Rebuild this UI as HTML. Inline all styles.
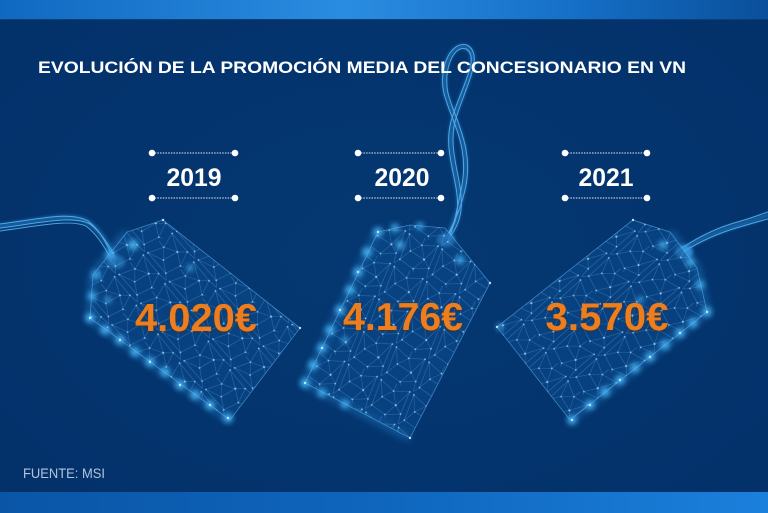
<!DOCTYPE html>
<html><head><meta charset="utf-8">
<style>
html,body{margin:0;padding:0;background:#04346b;}
svg{display:block;}
</style></head>
<body>
<svg width="768" height="513" viewBox="0 0 768 513" xmlns="http://www.w3.org/2000/svg">
<defs>
  <linearGradient id="topbar" x1="0" y1="0" x2="1" y2="0">
    <stop offset="0" stop-color="#1069c0"/>
    <stop offset="0.45" stop-color="#2a8ce0"/>
    <stop offset="0.75" stop-color="#156fc6"/>
    <stop offset="1" stop-color="#0a4f9a"/>
  </linearGradient>
  <linearGradient id="botbar" x1="0" y1="0" x2="1" y2="0">
    <stop offset="0" stop-color="#0a55a6"/>
    <stop offset="0.5" stop-color="#0f66bd"/>
    <stop offset="1" stop-color="#1b80dc"/>
  </linearGradient>
  <radialGradient id="bg" cx="0.5" cy="0.5" r="0.7">
    <stop offset="0" stop-color="#053872"/>
    <stop offset="1" stop-color="#03316a"/>
  </radialGradient>
  <pattern id="mesh" width="36" height="36" patternUnits="userSpaceOnUse" patternTransform="rotate(-37)">
    <g stroke="#7cc4ff" stroke-opacity="0.4" stroke-width="0.5" fill="none">
      <path d="M2,3 L18,8 L33,2 M2,3 L10,18 L18,8 L26,20 L33,2 M10,18 L26,20 L34,26 L33,2 M10,18 L4,30 L20,33 L26,20 M20,33 L34,26 M4,30 L2,3 M18,8 L18,0 M34,26 L36,36 M20,33 L22,36 M4,30 L0,36"/>
    </g>
    <g fill="#9fd8ff" fill-opacity="0.8">
      <circle cx="2" cy="3" r="0.9"/><circle cx="18" cy="8" r="0.9"/><circle cx="33" cy="2" r="0.9"/>
      <circle cx="10" cy="18" r="0.9"/><circle cx="26" cy="20" r="1.1"/><circle cx="4" cy="30" r="0.9"/>
      <circle cx="20" cy="33" r="0.9"/><circle cx="34" cy="26" r="0.9"/>
    </g>
  </pattern>
  <pattern id="mesh2" width="36" height="36" patternUnits="userSpaceOnUse" patternTransform="rotate(25)">
    <g stroke="#7cc4ff" stroke-opacity="0.4" stroke-width="0.5" fill="none">
      <path d="M2,3 L18,8 L33,2 M2,3 L10,18 L18,8 L26,20 L33,2 M10,18 L26,20 L34,26 L33,2 M10,18 L4,30 L20,33 L26,20 M20,33 L34,26 M4,30 L2,3 M18,8 L18,0 M34,26 L36,36 M20,33 L22,36 M4,30 L0,36"/>
    </g>
    <g fill="#9fd8ff" fill-opacity="0.8">
      <circle cx="2" cy="3" r="0.9"/><circle cx="18" cy="8" r="0.9"/><circle cx="33" cy="2" r="0.9"/>
      <circle cx="10" cy="18" r="0.9"/><circle cx="26" cy="20" r="1.1"/><circle cx="4" cy="30" r="0.9"/>
      <circle cx="20" cy="33" r="0.9"/><circle cx="34" cy="26" r="0.9"/>
    </g>
  </pattern>
  <pattern id="mesh3" width="36" height="36" patternUnits="userSpaceOnUse" patternTransform="rotate(52)">
    <g stroke="#7cc4ff" stroke-opacity="0.4" stroke-width="0.5" fill="none">
      <path d="M2,3 L18,8 L33,2 M2,3 L10,18 L18,8 L26,20 L33,2 M10,18 L26,20 L34,26 L33,2 M10,18 L4,30 L20,33 L26,20 M20,33 L34,26 M4,30 L2,3 M18,8 L18,0 M34,26 L36,36 M20,33 L22,36 M4,30 L0,36"/>
    </g>
    <g fill="#9fd8ff" fill-opacity="0.8">
      <circle cx="2" cy="3" r="0.9"/><circle cx="18" cy="8" r="0.9"/><circle cx="33" cy="2" r="0.9"/>
      <circle cx="10" cy="18" r="0.9"/><circle cx="26" cy="20" r="1.1"/><circle cx="4" cy="30" r="0.9"/>
      <circle cx="20" cy="33" r="0.9"/><circle cx="34" cy="26" r="0.9"/>
    </g>
  </pattern>
  <filter id="blur" x="-50%" y="-50%" width="200%" height="200%"><feGaussianBlur stdDeviation="2.8"/></filter>
  <filter id="blur2" x="-20%" y="-20%" width="140%" height="140%"><feGaussianBlur stdDeviation="1.5"/></filter>
  <filter id="halo" x="-20%" y="-20%" width="140%" height="140%"><feGaussianBlur stdDeviation="4"/></filter>
  <filter id="tshadow" x="-10%" y="-20%" width="120%" height="140%"><feGaussianBlur stdDeviation="1.2"/></filter>
</defs>

<rect x="0" y="0" width="768" height="513" fill="url(#bg)"/>
<rect x="0" y="0" width="768" height="19" fill="url(#topbar)"/>
<rect x="0" y="19" width="768" height="1" fill="#0a3f7c"/>
<rect x="0" y="492" width="768" height="21" fill="url(#botbar)"/>

<!-- strings -->
<g fill="none" stroke-linecap="round">
  <g stroke="#2f90dc" stroke-width="5" opacity="0.5" filter="url(#blur2)">
    <path d="M0,226 C40,221 70,212 88,222 C102,232 108,246 115,258"/>
    <path d="M447,238 C478,200 438,160 455,115 C465,85 482,55 466,47 C450,42 438,75 448,100 C456,125 472,150 463,190 C458,215 452,228 447,238"/>
    <path d="M683,250 C698,240 715,232 735,226 C750,222 760,218 768,215"/>
  </g>
  <g stroke="#5ab8f0" stroke-width="1" opacity="0.85">
    <path d="M0,224 C40,219 70,211 88,221 C101,231 107,245 113,257"/>
    <path d="M0,228 C40,223 72,215 90,224 C103,234 110,248 117,259"/>
    <path d="M0,231 C38,226 70,219 86,226 C99,236 105,249 112,260"/>
    <path d="M446,238 C476,200 436,160 453,115 C463,85 480,56 466,49 C452,44 441,76 450,100 C458,125 474,152 465,190 C459,215 451,228 446,238"/>
    <path d="M449,238 C480,200 441,160 457,115 C467,84 484,54 467,45 C449,40 436,74 446,100 C454,126 470,150 461,190 C456,215 453,229 449,238"/>
    <path d="M683,252 C699,242 716,234 736,228 C750,224 760,221 768,219"/>
    <path d="M682,248 C697,238 714,229 734,223 C749,219 759,215 768,212"/>
  </g>
  <g fill="#3fa6ea" opacity="0.75" filter="url(#blur2)" stroke="none">
    <ellipse cx="116" cy="262" rx="9" ry="7"/>
    <ellipse cx="446" cy="240" rx="9" ry="7"/>
    <ellipse cx="684" cy="252" rx="9" ry="7"/>
  </g>
</g>

<!-- edge halos -->
<g fill="none" stroke="#2f9ff0" stroke-width="6" opacity="0.45" filter="url(#halo)">
  <polyline points="127,232 93,275 90,318 230,420"/>
  <polyline points="378,232 305,383 410,438"/>
  <polyline points="670,232 697,268 707,312 570,420"/>
</g>

<!-- tags -->
<g>
  <polygon points="127,232 163,220 300,328 230,420 90,318 93,275" fill="#0c4d92" fill-opacity="0.5"/>
  <polygon points="127,232 163,220 300,328 230,420 90,318 93,275" fill="url(#mesh)"/>
  <polygon points="127,232 163,220 300,328 230,420 90,318 93,275" fill="none" stroke="#6cc0ff" stroke-opacity="0.55" stroke-width="0.8"/>

  <polygon points="305,383 378,232 410,225 445,228 490,283 410,438" fill="#0c4d92" fill-opacity="0.5"/>
  <polygon points="305,383 378,232 410,225 445,228 490,283 410,438" fill="url(#mesh2)"/>
  <polygon points="305,383 378,232 410,225 445,228 490,283 410,438" fill="none" stroke="#6cc0ff" stroke-opacity="0.55" stroke-width="0.8"/>

  <polygon points="497,327 633,220 670,232 697,268 707,312 570,420" fill="#0c4d92" fill-opacity="0.5"/>
  <polygon points="497,327 633,220 670,232 697,268 707,312 570,420" fill="url(#mesh3)"/>
  <polygon points="497,327 633,220 670,232 697,268 707,312 570,420" fill="none" stroke="#6cc0ff" stroke-opacity="0.55" stroke-width="0.8"/>
</g>

<!-- glow dots -->
<g fill="#4fc0ff" filter="url(#blur)" opacity="0.95">
  <circle cx="90" cy="318" r="4.5"/><circle cx="105" cy="330" r="4.5"/><circle cx="120" cy="340" r="4.5"/><circle cx="135" cy="352" r="4.5"/><circle cx="150" cy="362" r="4.5"/><circle cx="165" cy="372" r="4.5"/><circle cx="180" cy="385" r="4.5"/><circle cx="195" cy="395" r="4.5"/><circle cx="210" cy="405" r="4.5"/><circle cx="228" cy="418" r="4.5"/><circle cx="92" cy="296" r="4"/><circle cx="96" cy="275" r="4"/><circle cx="110" cy="255" r="4"/><circle cx="133" cy="245" r="5"/><circle cx="190" cy="268" r="3"/><circle cx="108" cy="300" r="3"/>
  <circle cx="305" cy="383" r="4.5"/><circle cx="313" cy="365" r="4.5"/><circle cx="322" cy="348" r="4.5"/><circle cx="330" cy="330" r="4.5"/><circle cx="340" cy="310" r="4.5"/><circle cx="350" cy="290" r="4.5"/><circle cx="358" cy="272" r="4.5"/><circle cx="367" cy="252" r="4.5"/><circle cx="378" cy="232" r="4.5"/><circle cx="322" cy="393" r="4"/><circle cx="345" cy="404" r="4"/><circle cx="395" cy="228" r="4"/><circle cx="420" cy="226" r="3.5"/><circle cx="400" cy="245" r="4"/><circle cx="460" cy="260" r="4"/><circle cx="345" cy="340" r="3"/>
  <circle cx="707" cy="312" r="4.5"/><circle cx="693" cy="323" r="4.5"/><circle cx="680" cy="333" r="4.5"/><circle cx="665" cy="345" r="4.5"/><circle cx="650" cy="357" r="4.5"/><circle cx="635" cy="368" r="4.5"/><circle cx="620" cy="380" r="4.5"/><circle cx="605" cy="392" r="4.5"/><circle cx="590" cy="405" r="4.5"/><circle cx="572" cy="420" r="4.5"/><circle cx="700" cy="285" r="4"/><circle cx="690" cy="262" r="4"/><circle cx="663" cy="245" r="4"/><circle cx="640" cy="300" r="3"/><circle cx="500" cy="327" r="3"/>
</g>
<g fill="#c9efff" opacity="0.9">
  <circle cx="90" cy="318" r="1.2"/><circle cx="120" cy="340" r="1.2"/><circle cx="150" cy="362" r="1.2"/><circle cx="180" cy="385" r="1.2"/><circle cx="210" cy="405" r="1.2"/><circle cx="228" cy="418" r="1.2"/><circle cx="300" cy="328" r="1.2"/><circle cx="163" cy="220" r="1.2"/>
  <circle cx="305" cy="383" r="1.2"/><circle cx="322" cy="348" r="1.2"/><circle cx="340" cy="310" r="1.2"/><circle cx="358" cy="272" r="1.2"/><circle cx="378" cy="232" r="1.2"/><circle cx="490" cy="283" r="1.2"/><circle cx="410" cy="438" r="1.2"/>
  <circle cx="707" cy="312" r="1.2"/><circle cx="680" cy="333" r="1.2"/><circle cx="650" cy="357" r="1.2"/><circle cx="620" cy="380" r="1.2"/><circle cx="590" cy="405" r="1.2"/><circle cx="572" cy="420" r="1.2"/><circle cx="497" cy="327" r="1.2"/><circle cx="633" cy="220" r="1.2"/>
</g>

<!-- title -->
<text x="38" y="73" font-family="Liberation Sans, sans-serif" font-weight="bold" font-size="17" fill="#ffffff" textLength="648" lengthAdjust="spacingAndGlyphs">EVOLUCIÓN DE LA PROMOCIÓN MEDIA DEL CONCESIONARIO EN VN</text>

<!-- year markers -->
<g stroke="#ffffff" stroke-width="1" stroke-dasharray="1.5,1.2" opacity="0.9">
  <line x1="152" y1="153" x2="235" y2="153"/><line x1="152" y1="198" x2="235" y2="198"/>
  <line x1="358" y1="153" x2="441" y2="153"/><line x1="358" y1="198" x2="441" y2="198"/>
  <line x1="565" y1="153" x2="647" y2="153"/><line x1="565" y1="198" x2="647" y2="198"/>
</g>
<g fill="#ffffff">
  <circle cx="152" cy="153" r="3.3"/><circle cx="235" cy="153" r="3.3"/><circle cx="152" cy="198" r="3.3"/><circle cx="235" cy="198" r="3.3"/>
  <circle cx="358" cy="153" r="3.3"/><circle cx="441" cy="153" r="3.3"/><circle cx="358" cy="198" r="3.3"/><circle cx="441" cy="198" r="3.3"/>
  <circle cx="565" cy="153" r="3.3"/><circle cx="647" cy="153" r="3.3"/><circle cx="565" cy="198" r="3.3"/><circle cx="647" cy="198" r="3.3"/>
</g>
<g font-family="Liberation Sans, sans-serif" font-weight="bold" font-size="25" fill="#ffffff" text-anchor="middle">
  <text x="194" y="186" textLength="55" lengthAdjust="spacingAndGlyphs">2019</text>
  <text x="402" y="186" textLength="55" lengthAdjust="spacingAndGlyphs">2020</text>
  <text x="606" y="186" textLength="55" lengthAdjust="spacingAndGlyphs">2021</text>
</g>

<!-- prices -->
<g font-family="Liberation Sans, sans-serif" font-weight="bold" font-size="39" text-anchor="middle">
  <g fill="#5a2a05" opacity="0.6" filter="url(#tshadow)">
    <text x="196" y="332" textLength="122" lengthAdjust="spacingAndGlyphs">4.020€</text>
    <text x="403" y="331" textLength="120" lengthAdjust="spacingAndGlyphs">4.176€</text>
    <text x="607" y="331" textLength="123" lengthAdjust="spacingAndGlyphs">3.570€</text>
  </g>
  <g fill="#ee7d1e">
    <text x="196" y="331" textLength="122" lengthAdjust="spacingAndGlyphs">4.020€</text>
    <text x="403" y="330" textLength="120" lengthAdjust="spacingAndGlyphs">4.176€</text>
    <text x="607" y="330" textLength="123" lengthAdjust="spacingAndGlyphs">3.570€</text>
  </g>
</g>

<!-- source -->
<text x="23" y="478" font-family="Liberation Sans, sans-serif" font-size="13.5" fill="#b3c4dc" textLength="82" lengthAdjust="spacingAndGlyphs">FUENTE: MSI</text>
</svg>
</body></html>
